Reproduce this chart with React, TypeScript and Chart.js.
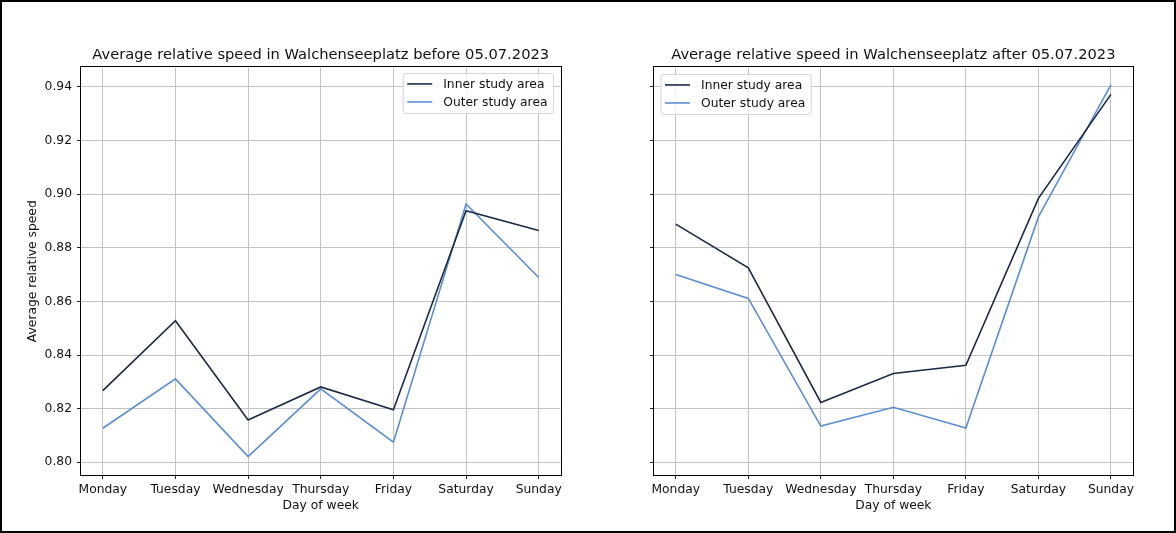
import React, { useEffect, useRef } from 'react';
import { Chart, registerables } from 'chart.js';

Chart.register(...registerables);

// ---- Data ----
const days = ['Monday', 'Tuesday', 'Wednesday', 'Thursday', 'Friday', 'Saturday', 'Sunday'];
const seriesLabels = ['Inner study area', 'Outer study area'];
const beforeInner = [0.8267, 0.8528, 0.8158, 0.8281, 0.8196, 0.8938, 0.8864];
const beforeOuter = [0.8127, 0.8311, 0.8021, 0.8274, 0.8075, 0.8963, 0.8689];
const afterInner = [0.8888, 0.8725, 0.8223, 0.8331, 0.8362, 0.8984, 0.9372];
const afterOuter = [0.87, 0.8611, 0.8135, 0.8205, 0.8128, 0.8915, 0.9407];
const yTicks = [0.8, 0.82, 0.84, 0.86, 0.88, 0.9, 0.92, 0.94];
const titleBefore = 'Average relative speed in Walchenseeplatz before 05.07.2023';
const titleAfter = 'Average relative speed in Walchenseeplatz after 05.07.2023';
const xAxisTitle = 'Day of week';
const yAxisTitle = 'Average relative speed';

const Y_MIN = 0.79526;
const Y_MAX = 0.94724;
const X_MIN = -0.3;
const X_MAX = 6.3;

const COLORS = ['#1c2a45', '#5a8fd6'];
const FONT = '"DejaVu Sans", sans-serif';
const TEXT = '#111';
const GRID = '#c2c2c2';
const TICK_SIZE = 12.3;

const frameLegendPlugin = {
  id: 'frameLegend',
  afterDraw(chart: any, _args: any, opts: any) {
    const { ctx, chartArea: a } = chart;
    ctx.save();
    // spines
    ctx.strokeStyle = '#000';
    ctx.lineWidth = 1;
    const L = Math.round(a.left) - 0.5;
    const R = Math.round(a.right) + 0.5;
    const T = Math.round(a.top) - 0.5;
    const B = Math.round(a.bottom) + 0.5;
    ctx.strokeRect(L, T, R - L, B - T);

    // legend
    ctx.font = `${TICK_SIZE}px ${FONT}`;
    const textW = Math.max(...seriesLabels.map((s) => ctx.measureText(s).width));
    const w = 4 + 25 + 11 + textW + 6;
    const h = 40;
    let x: number;
    let y: number;
    if (opts.side === 'right') {
      x = a.right - 7 - w;
      y = a.top + 6;
    } else {
      x = a.left + 7;
      y = a.top + 7;
    }
    const r = 3;
    ctx.beginPath();
    ctx.moveTo(x + r, y);
    ctx.lineTo(x + w - r, y);
    ctx.arcTo(x + w, y, x + w, y + r, r);
    ctx.lineTo(x + w, y + h - r);
    ctx.arcTo(x + w, y + h, x + w - r, y + h, r);
    ctx.lineTo(x + r, y + h);
    ctx.arcTo(x, y + h, x, y + h - r, r);
    ctx.lineTo(x, y + r);
    ctx.arcTo(x, y, x + r, y, r);
    ctx.closePath();
    ctx.fillStyle = 'rgba(255,255,255,0.8)';
    ctx.fill();
    ctx.strokeStyle = '#d4d4d4';
    ctx.lineWidth = 1;
    ctx.stroke();

    seriesLabels.forEach((label, i) => {
      const ly = y + 10.5 + i * 18;
      ctx.strokeStyle = COLORS[i];
      ctx.lineWidth = 1.6;
      ctx.beginPath();
      ctx.moveTo(x + 4, ly);
      ctx.lineTo(x + 29, ly);
      ctx.stroke();
      ctx.fillStyle = TEXT;
      ctx.textBaseline = 'middle';
      ctx.textAlign = 'left';
      ctx.fillText(label, x + 40, ly + 0.5);
    });
    ctx.restore();
  },
};

function makeConfig(
  title: string,
  inner: number[],
  outer: number[],
  o: { padRight: number; yWidth: number; showY: boolean; side: string }
): any {
  const tickFont = { family: FONT, size: TICK_SIZE, weight: 'normal' as const, lineHeight: 1.2 };
  return {
    type: 'line',
    data: {
      datasets: [inner, outer].map((arr, k) => ({
        label: seriesLabels[k],
        data: arr.map((v, i) => ({ x: i, y: v })),
        borderColor: COLORS[k],
        backgroundColor: COLORS[k],
        borderWidth: 1.6,
        pointRadius: 0,
        fill: false,
        tension: 0,
      })),
    },
    options: {
      responsive: false,
      animation: false,
      devicePixelRatio: 1,
      layout: { padding: { left: 0, right: o.padRight, top: 0, bottom: 0 } },
      plugins: {
        legend: { display: false },
        tooltip: { enabled: false },
        title: {
          display: true,
          text: title,
          fullSize: false,
          color: TEXT,
          font: { family: FONT, size: 14.7, weight: 'normal', lineHeight: 1.2 },
          padding: { top: 46.5, bottom: 3.3 },
        },
        frameLegend: { side: o.side },
      },
      scales: {
        x: {
          type: 'linear',
          min: X_MIN,
          max: X_MAX,
          afterBuildTicks: (s: any) => {
            s.ticks = days.map((_, i) => ({ value: i }));
          },
          afterFit: (s: any) => {
            s.height = 58;
          },
          ticks: {
            callback: (v: any) => days[Math.round(Number(v))] ?? '',
            color: TEXT,
            font: tickFont,
            padding: 3.5,
            maxRotation: 0,
            minRotation: 0,
            autoSkip: false,
          },
          grid: { color: GRID, lineWidth: 1, tickColor: '#222', tickLength: 4, drawTicks: true },
          border: { display: false },
          title: {
            display: true,
            text: xAxisTitle,
            color: TEXT,
            font: tickFont,
            padding: { top: 0, bottom: 19.5 },
          },
        },
        y: {
          type: 'linear',
          min: Y_MIN,
          max: Y_MAX,
          afterBuildTicks: (s: any) => {
            s.ticks = yTicks.map((v) => ({ value: v }));
          },
          afterFit: (s: any) => {
            s.width = o.yWidth;
          },
          ticks: {
            display: o.showY,
            callback: (v: any) => Number(v).toFixed(2),
            color: TEXT,
            font: tickFont,
            padding: 5,
          },
          grid: { color: GRID, lineWidth: 1, tickColor: '#222', tickLength: 4, drawTicks: true },
          border: { display: false },
          title: {
            display: o.showY,
            text: yAxisTitle,
            color: TEXT,
            font: tickFont,
            padding: { top: 25.5, bottom: 0 },
          },
        },
      },
    },
    plugins: [frameLegendPlugin],
  };
}

function Panel(props: { cfg: any; left: number }) {
  const ref = useRef<HTMLCanvasElement | null>(null);
  useEffect(() => {
    if (!ref.current) return;
    const chart = new Chart(ref.current, props.cfg);
    return () => chart.destroy();
  }, []);
  return (
    <canvas
      ref={ref}
      width={588}
      height={533}
      style={{ position: 'absolute', left: props.left, top: 0, width: 588, height: 533, display: 'block' }}
    />
  );
}

export default function App() {
  const cfgBefore = makeConfig(titleBefore, beforeInner, beforeOuter, {
    padRight: 27.5,
    yWidth: 81,
    showY: true,
    side: 'right',
  });
  const cfgAfter = makeConfig(titleAfter, afterInner, afterOuter, {
    padRight: 43.3,
    yWidth: 66,
    showY: false,
    side: 'left',
  });
  return (
    <div
      style={{
        position: 'absolute',
        left: 0,
        top: 0,
        width: 1176,
        height: 533,
        background: '#fff',
        overflow: 'hidden',
      }}
    >
      <Panel cfg={cfgBefore} left={0} />
      <Panel cfg={cfgAfter} left={588} />
      <div
        style={{
          position: 'absolute',
          left: 0,
          top: 0,
          width: 1176,
          height: 533,
          boxSizing: 'border-box',
          border: '2px solid #000',
          pointerEvents: 'none',
        }}
      />
    </div>
  );
}
